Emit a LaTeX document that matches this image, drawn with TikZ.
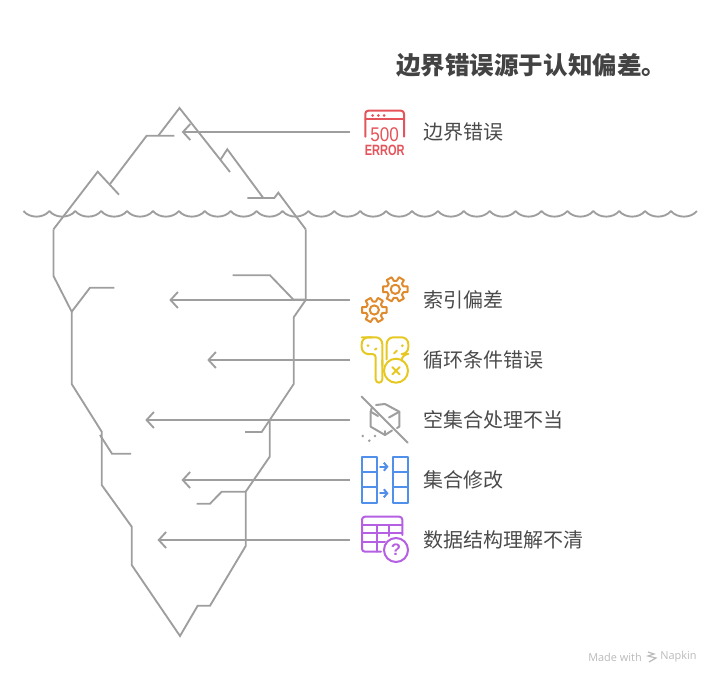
\documentclass[tikz,border=0pt]{standalone}
\usepackage{fontspec}
\setmainfont{Noto Sans CJK SC}
\newfontfamily\arialfont{Liberation Sans}
\newfontfamily\napkinfont{Open Sans}
\definecolor{bergcol}{HTML}{9E9E9E}
\definecolor{textcol}{HTML}{4A4A4A}
\definecolor{errcol}{HTML}{E5545A}
\definecolor{gearcol}{HTML}{E08A2E}
\definecolor{podcol}{HTML}{E6C823}
\definecolor{gridcol}{HTML}{5090EA}
\definecolor{tablecol}{HTML}{B55FE3}
\tikzset{
  berg/.style={draw=bergcol,line width=1.4pt,line join=miter},
  pointer/.style={draw=bergcol,line width=1.4pt,-{Straight Barb[length=5.5pt,width=12pt,line width=1.4pt]}},
  icon/.style={line width=1.5pt,line cap=round,line join=round},
  label/.style={anchor=west,inner sep=0pt,text=textcol,font=\fontsize{15}{18}\selectfont},
}
\usetikzlibrary{arrows.meta}
\begin{document}
\begin{tikzpicture}[x=0.75pt,y=0.75pt,yscale=-1]
\useasboundingbox (0,0) rectangle (721,685);
%Shape: Water line
\draw[draw=bergcol,line width=1.4pt,line join=round] (23.5,211) \foreach \k in {0,...,25} { .. controls +(6,7.5) and +(-6,7.5) .. ++(25.9,0) };
%Shape: Iceberg above water
\draw[berg] (158.3,135.7) -- (179.5,108) -- (230,172);
\draw[berg] (174.3,135.7) -- (146.7,135.7) -- (110,184);
\draw[berg] (119,194.7) -- (97.7,171.7) -- (53.5,229.3);
\draw[berg] (220.7,159.3) -- (227.3,149.3) -- (263.3,198);
\draw[berg] (247.3,198) -- (274.3,198) -- (278.3,192.7) -- (305.7,229.3);
%Shape: Iceberg below water
\draw[berg] (53.5,229.3) -- (53.5,276) -- (71.7,311.7) -- (90,287.7) -- (114.3,287.7);
\draw[berg] (71.7,311.7) -- (71.7,384) -- (101.7,431.7) -- (101.7,485) -- (131.7,526.7) -- (131.7,565) -- (180,636) -- (197.7,605.7) -- (210,605.7) -- (245.7,546) -- (245.7,491.7) -- (221.7,491.7) -- (210,503.7) -- (196.7,503.7);
\draw[berg] (245.7,491.7) -- (269.7,456.7) -- (269.7,420) -- (293.7,384) -- (293.7,317.3) -- (305.7,300) -- (305.7,229.3);
\draw[berg] (232.7,275.3) -- (270,275.3) -- (293.3,299.5) -- (305.7,299.5);
\draw[berg] (100,435) -- (112,453.7) -- (131,453.7);
\draw[berg] (269.7,420) -- (261.7,432) -- (245,432);
% Pointer ends
\coordinate (errstart) at (350,132);
\coordinate (errtip) at (181.7,132);
\coordinate (indexstart) at (350,300);
\coordinate (indextip) at (169.3,300);
\coordinate (loopstart) at (350,360);
\coordinate (looptip) at (207.3,360);
\coordinate (emptystart) at (350,420);
\coordinate (emptytip) at (145.3,420);
\coordinate (editstart) at (350,480);
\coordinate (edittip) at (181.5,480);
\coordinate (structstart) at (350,540);
\coordinate (structtip) at (157.5,540);
\draw[pointer] (errstart) -- (errtip);
\draw[pointer] (indexstart) -- (indextip);
\draw[pointer] (loopstart) -- (looptip);
\draw[pointer] (emptystart) -- (emptytip);
\draw[pointer] (editstart) -- (edittip);
\draw[pointer] (structstart) -- (structtip);
%Shape: 500 error icon
\draw[icon,draw=errcol,rounded corners=2.2pt] (365.3,136.7) -- (365.3,110.7) -- (404,110.7) -- (404,136.7);
\draw[icon,draw=errcol] (365.3,119.3) -- (404,119.3);
\fill[errcol] (372.7,115.5) circle (1.5) (378.3,115.5) circle (1.5) (384,115.5) circle (1.5);
\node (num500) at (384.7,135) [inner sep=0pt,xscale=0.95,yscale=1.1,text=errcol,font=\arialfont\fontsize{13.5}{14}\selectfont] {500};
\node (errword) at (384.7,150.3) [inner sep=0pt,xscale=0.74,text=errcol,font=\arialfont\bfseries\fontsize{11.2}{12}\selectfont] {ERROR};
%Shape: Gears icon
\foreach \cx/\cy in {395.3/289.3,374.3/310} {
  \draw[icon,draw=gearcol] (\cx,\cy) circle (4.6);
  \draw[icon,draw=gearcol] ({\cx+8.6*cos(-20)},{\cy+8.6*sin(-20)})
    \foreach \a in {0,60,...,300} { -- ({\cx+12.6*cos(\a-13)},{\cy+12.6*sin(\a-13)}) -- ({\cx+12.6*cos(\a+13)},{\cy+12.6*sin(\a+13)}) -- ({\cx+8.6*cos(\a+20)},{\cy+8.6*sin(\a+20)}) -- ({\cx+8.6*cos(\a+40)},{\cy+8.6*sin(\a+40)}) } -- cycle;
}
%Shape: Earbuds icon
\draw[icon,draw=podcol,rounded corners=5pt] (361.7,337.3) -- (382.3,337.3) -- (382.3,366);
\draw[icon,draw=podcol,rounded corners=2.5pt] (382.3,360) -- (382.3,382.7) -- (375.7,382.7) -- (375.7,354) -- (367,354);
\draw[icon,draw=podcol,rounded corners=5pt] (369,354) -- (361.7,354) -- (361.7,337.3) -- (372,337.3);
\draw[icon,draw=podcol,rounded corners=5pt] (386.7,359.5) -- (386.7,337.3) -- (408.3,337.3) -- (408.3,354) -- (401.7,354) -- (401.7,360);
\draw[icon,draw=podcol] (396,370.7) circle (12);
\draw[icon,draw=podcol] (392.3,367) -- (399.7,374.4) (399.7,367) -- (392.3,374.4);
\fill[podcol] (368,345.7) circle (1.5) (402.3,345.7) circle (1.5);
\draw[icon,draw=podcol] (375,349.5) -- (376.5,348.5) (394,353.5) -- (397,350.5);
%Shape: Empty set cube icon
\draw[icon,draw=bergcol] (361.7,396.7) -- (407.7,442.7);
\draw[icon,draw=bergcol] (372,407) -- (370.7,411.7) -- (370.7,426.7) -- (385,435) -- (392,430.5);
\draw[icon,draw=bergcol] (376,405) -- (385,404) -- (399.3,411.7) -- (399.3,426.7) -- (397,428);
\draw[icon,draw=bergcol] (389,417.5) -- (399.3,411.7);
\draw[icon,draw=bergcol] (370.7,411.7) -- (378,416);
\draw[icon,draw=bergcol] (385,431) -- (385,435);
\fill[bergcol] (362.7,436) circle (1.4) (369.3,440.7) circle (1.4) (375,436) circle (1.4);
%Shape: Swap columns icon
\draw[icon,draw=gridcol] (362,457) rectangle (376.7,502.7) (362,472.3) -- (376.7,472.3) (362,487.3) -- (376.7,487.3);
\draw[icon,draw=gridcol] (393,457) rectangle (407.7,502.7) (393,472.3) -- (407.7,472.3) (393,487.3) -- (407.7,487.3);
\draw[icon,draw=gridcol,-{Straight Barb[length=2.5pt,width=6pt,line width=1.5pt]}] (380,466.7) -- (388.5,466.7);
\draw[icon,draw=gridcol,-{Straight Barb[length=2.5pt,width=6pt,line width=1.5pt]}] (380,493.3) -- (388.5,493.3);
%Shape: Table icon
\draw[icon,draw=tablecol,rounded corners=2.2pt] (381,551.7) -- (362,551.7) -- (362,516.7) -- (402.3,516.7) -- (402.3,535);
\draw[icon,draw=tablecol] (362,525) -- (402.3,525) (362,533.3) -- (402.3,533.3) (362,541.7) -- (385,541.7);
\draw[icon,draw=tablecol] (377.3,525) -- (377.3,551.7) (389.3,525) -- (389.3,536);
\draw[icon,draw=tablecol,fill=white] (396,550) circle (12);
\node (qmark) at (396,550) [inner sep=0pt,text=tablecol,font=\arialfont\bfseries\fontsize{12.5}{13}\selectfont] {?};
% Text Node
\node (title) at (396,65) [anchor=west,inner sep=0pt,text=textcol!90!black,font=\bfseries\fontsize{18.4}{22}\selectfont] {边界错误源于认知偏差。};
\node (errlabel) at (423,132) [label] {边界错误};
\node (indexlabel) at (423,300) [label] {索引偏差};
\node (looplabel) at (423,360) [label] {循环条件错误};
\node (emptylabel) at (423,420) [label] {空集合处理不当};
\node (editlabel) at (423,480) [label] {集合修改};
\node (structlabel) at (423,540) [label] {数据结构理解不清};
% Footer
\node (madewith) at (588,657) [anchor=west,inner sep=0pt,text=black!27,font=\napkinfont\fontsize{8.2}{10}\selectfont] {Made with};
\node (napkin) at (660,657) [anchor=west,inner sep=0pt,text=black!27,font=\napkinfont\fontsize{8.2}{10}\selectfont] {Napkin};
\draw[draw=black!27,line width=0.9pt] (648,652) -- (654,654) -- (648,656) -- (656,658) -- (649,662);
\end{tikzpicture}
\end{document}
